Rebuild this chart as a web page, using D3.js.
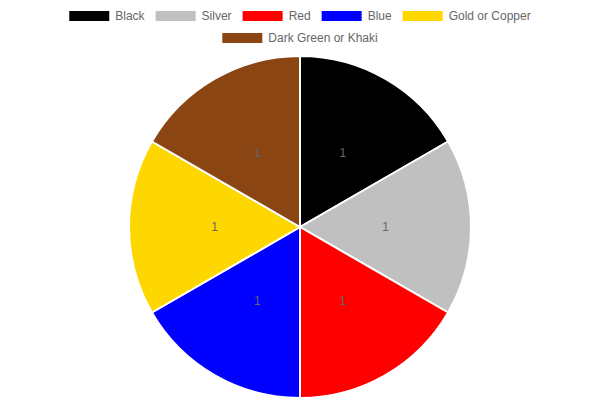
<!DOCTYPE html>
<html>
<head>
<meta charset="utf-8">
<script src="https://cdn.jsdelivr.net/npm/d3@7"></script>
<style>
  body { margin: 0; background: #fff; }
  svg { display: block; font-family: "Liberation Sans", Arial, sans-serif; }
</style>
</head>
<body>
<svg id="chart" width="600" height="400"></svg>
<script>
const categories = ['Black', 'Silver', 'Red', 'Blue', 'Gold or Copper', 'Dark Green or Khaki'];
const values = [1, 1, 1, 1, 1, 1];
const colours = ['#000000', '#c0c0c0', '#ff0000', '#0000ff', '#ffd700', '#8b4513'];

const width = 600;
const height = 400;
const svg = d3.select('#chart');

// legend, laid out in centred rows like chart.js
const boxW = 40, boxH = 10, fontSize = 12, pad = 11;
const rowY = [16, 38];
const legend = svg.append('g').attr('class', 'legend');
const measure = svg.append('text').style('font-size', fontSize + 'px');
const items = categories.map((c, i) => {
	measure.text(c);
	const w = boxW + fontSize / 2 + measure.node().getComputedTextLength();
	return { name: c, colour: colours[i], w };
});
measure.remove();

const rows = [[]];
let rowWidth = 0;
items.forEach(it => {
	if (rowWidth + it.w + pad > width - 20 && rows[rows.length - 1].length) {
		rows.push([]);
		rowWidth = 0;
	}
	rows[rows.length - 1].push(it);
	rowWidth += it.w + pad;
});

rows.forEach((row, r) => {
	const total = d3.sum(row, d => d.w) + pad * (row.length - 1);
	let x = (width - total) / 2;
	row.forEach(it => {
		legend.append('rect')
			.attr('x', x).attr('y', rowY[r] - boxH / 2)
			.attr('width', boxW).attr('height', boxH)
			.attr('fill', it.colour);
		legend.append('text')
			.attr('x', x + boxW + fontSize / 2).attr('y', rowY[r])
			.attr('dy', '0.35em')
			.style('font-size', fontSize + 'px')
			.attr('fill', '#666')
			.text(it.name);
		x += it.w + pad;
	});
});

// pie
const cx = 300, cy = 227, radius = 171;
const pie = d3.pie().sort(null).value(d => d)(values);
const arc = d3.arc().innerRadius(0).outerRadius(radius);
const labelArc = d3.arc().innerRadius(radius / 2).outerRadius(radius / 2);

const g = svg.append('g').attr('transform', `translate(${cx},${cy})`);
g.selectAll('path.slice')
	.data(pie)
	.join('path')
	.attr('class', 'slice')
	.attr('d', arc)
	.attr('fill', (d, i) => colours[i])
	.attr('stroke', '#fff')
	.attr('stroke-width', 2);

g.selectAll('text.val')
	.data(pie)
	.join('text')
	.attr('class', 'val')
	.attr('transform', d => `translate(${labelArc.centroid(d)})`)
	.attr('text-anchor', 'middle')
	.attr('dy', '0.35em')
	.style('font-size', '12px')
	.attr('fill', '#666')
	.text(d => d.data);
</script>
</body>
</html>
